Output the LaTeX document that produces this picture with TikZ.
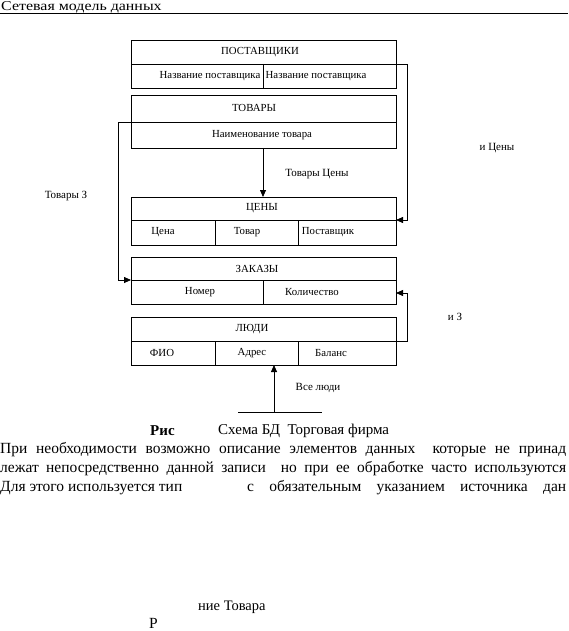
\documentclass[tikz,border=0pt]{standalone}
\usepackage{fontspec}
\setmainfont{Liberation Serif}
\usetikzlibrary{arrows.meta}
\begin{document}
\begin{tikzpicture}[x=1pt,y=-1pt,
  tbl/.style={draw,line width=0.8pt,minimum width=265pt,anchor=north west,inner sep=0pt},
  ln/.style={line width=0.8pt},
  cell/.style={font=\fontsize{10.8}{12}\selectfont,inner sep=0pt},
  lbl/.style={font=\fontsize{11}{12}\selectfont,inner sep=0pt},
  body/.style={font=\fontsize{15.5}{18}\selectfont,inner sep=0pt,anchor=west},
  arr/.style={ln,-{Triangle[length=7pt,width=6pt]}}]
\useasboundingbox (0,0) rectangle (568,631);
% header
\node[font=\fontsize{13.5}{15}\selectfont,inner sep=0pt,anchor=west] (hdr) at (1,7) {\scalebox{1.18}[1]{Сетевая модель данных}};
\coordinate (hl) at (0,13.5);
\coordinate (hr) at (568,13.5);
\draw[ln] (hl) -- (hr);
% tables
\node[tbl,minimum height=48pt] (sup) at (131,40) {};
\node[tbl,minimum height=53pt] (tov) at (131,95) {};
\node[tbl,minimum height=48pt] (cen) at (131,197) {};
\node[tbl,minimum height=47pt] (zak) at (131,257) {};
\node[tbl,minimum height=48pt] (lud) at (131,317) {};
% dividers
\draw[ln] (131,64) -- (396,64) (263,64) -- (263,88);
\draw[ln] (131,122) -- (396,122);
\draw[ln] (131,220) -- (396,220) (215,220) -- (215,245) (298,220) -- (298,245);
\draw[ln] (131,280) -- (396,280) (263,280) -- (263,304);
\draw[ln] (131,341) -- (396,341) (215,341) -- (215,365) (298,341) -- (298,365);
% texts
\node[cell] (t1) at (260,52) {ПОСТАВЩИКИ};
\node[cell] (t2) at (210,76) {Название поставщика};
\node[cell] (t3) at (316,76) {Название поставщика};
\node[cell] (t4) at (254,108) {ТОВАРЫ};
\node[cell] (t5) at (262,135) {Наименование товара};
\node[cell] (t6) at (262,208.5) {ЦЕНЫ};
\node[cell] (t7) at (163,232.5) {Цена};
\node[cell] (t8) at (247,232.5) {Товар};
\node[cell] (t9) at (328,232.5) {Поставщик};
\node[cell] (t10) at (257,268.5) {ЗАКАЗЫ};
\node[cell] (t11) at (200,292.5) {Номер};
\node[cell] (t12) at (312,292.5) {Количество};
\node[cell] (t13) at (252,329) {ЛЮДИ};
\node[cell] (t14) at (162,353) {ФИО};
\node[cell] (t15) at (252,353) {Адрес};
\node[cell] (t16) at (331,353) {Баланс};
% connector coordinates
\coordinate (supR) at (396,64);
\coordinate (cenR) at (396,220);
\coordinate (tovL) at (131,122);
\coordinate (zakL) at (131,280);
\coordinate (tovB) at (263,148);
\coordinate (cenT) at (263,197);
\coordinate (ludR) at (396,341);
\coordinate (zakR) at (396,293);
\coordinate (ludB) at (274,365);
\coordinate (base) at (274,412);
\coordinate (bl) at (238,412);
\coordinate (br) at (322,412);
\draw[arr] (supR) -- (407,64) -- (407,220) -- (cenR);
\draw[arr] (tovL) -- (118,122) -- (118,280) -- (zakL);
\draw[arr] (tovB) -- (cenT);
\draw[arr] (ludR) -- (407,341) -- (407,293) -- (zakR);
\draw[arr] (base) -- (ludB);
\draw[ln] (bl) -- (br);
% labels
\node[lbl] (l1) at (317,174) {Товары Цены};
\node[lbl] (l2) at (497,148) {и Цены};
\node[lbl] (l3) at (66,196) {Товары З};
\node[lbl] (l4) at (455,317) {и З};
\node[lbl] (l5) at (318,388) {Все люди};
% caption
\node[font=\fontsize{15}{17}\selectfont\bfseries,inner sep=0pt,anchor=west] (c1) at (150,431) {Рис};
\node[font=\fontsize{15}{17}\selectfont,inner sep=0pt,anchor=west] (c2) at (218,431) {Схема БД\ \ Торговая фирма};
% body
\node[body] (b1) at (0,450) {\makebox[566pt][s]{При необходимости возможно описание элементов данных\ \ которые не принад}};
\node[body] (b2) at (0,469) {\makebox[566pt][s]{лежат непосредственно данной записи\ \ но при ее обработке часто используются}};
\node[body] (b3) at (0,488) {Для этого используется тип};
\node[body] (b4) at (247,488) {\makebox[319pt][s]{с обязательным указанием источника дан}};
\node[body,font=\fontsize{14.5}{17}\selectfont] (b5) at (198,607) {ние Товара};
\node[body] (b6) at (149,623) {Р};
\end{tikzpicture}
\end{document}
